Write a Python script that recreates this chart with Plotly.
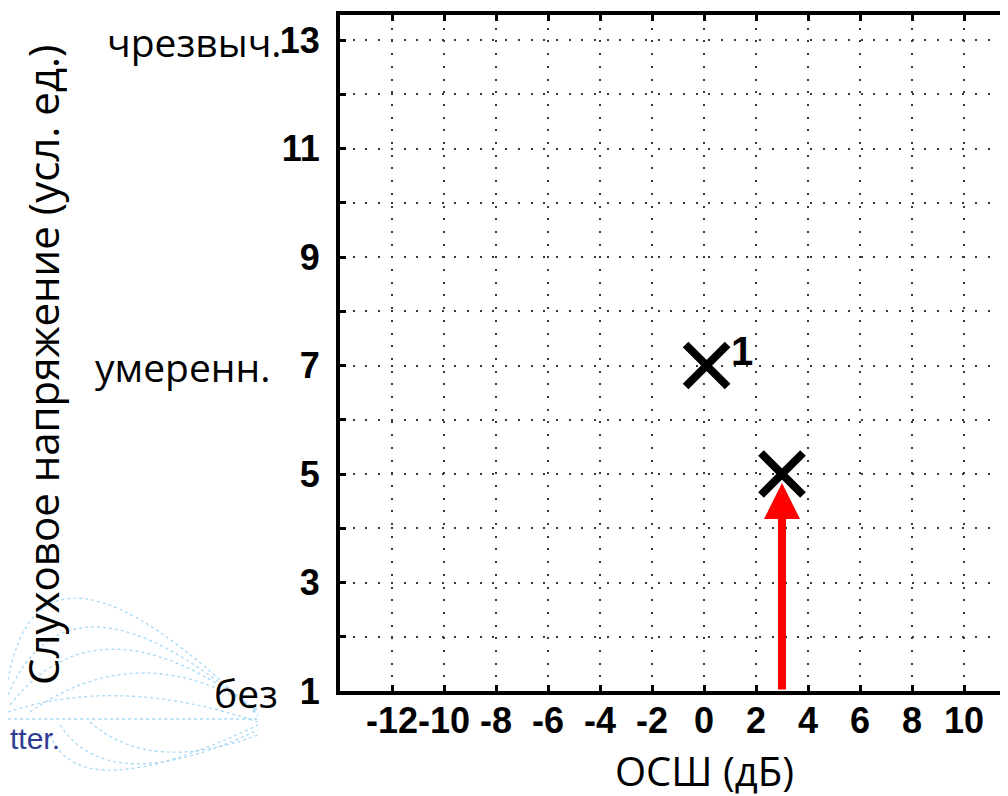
import plotly.graph_objects as go

# --- data -------------------------------------------------------------
snr_db = [0.1, 3.0]            # ОСШ (дБ) of the two points
strain = [7.0, 5.0]            # слуховое напряжение (усл. ед.)
point_labels = ["1", ""]

arrow_from = 1.0               # red arrow starts at the bottom axis, ends at point 2

x_ticks = list(range(-12, 13, 2))
y_ticks = list(range(1, 14))
y_ticktext = [str(v) if v % 2 else "" for v in y_ticks]

level_values = [13, 7, 1]
level_names = ["чрезвыч.", "умеренн.", "без"]

X_TITLE = "ОСШ (дБ)"
Y_TITLE = "Слуховое напряжение (усл. ед.)"

# --- style ------------------------------------------------------------
W, H = 1008, 796
OFF = 8                          # page body margin shifts the figure by 8px
L, R, T, B = 332, 0, 7, 113
PX_PER_DB = 26.0
PX_PER_UNIT = 54.25
X0, Y0 = -14, 1
x_range = [X0, X0 + (W - L - R) / PX_PER_DB]
y_range = [Y0, Y0 + (H - T - B) / PX_PER_UNIT]

NUM_FONT = dict(family="Liberation Sans, Arial", size=36, color="black", weight="bold")
WORD_FONT = dict(family="Open Sans, Noto Sans", size=39, color="black")
GRID = dict(showgrid=True, gridcolor="#3a3a3a", gridwidth=2, griddash="2px,10.7px")
level_shift = [-56, -68, -60]

plot_w = W - L - R
plot_h = H - T - B


def px2paper(sx, sy):
    """screen pixel -> paper coords"""
    return (sx - OFF - L) / plot_w, (H - B - (sy - OFF)) / plot_h


fig = go.Figure()

# red arrow pointing at the second point
fig.add_annotation(
    x=snr_db[1], y=strain[1], ax=snr_db[1], ay=arrow_from,
    xref="x", yref="y", axref="x", ayref="y",
    showarrow=True, arrowhead=2, arrowsize=0.9, arrowwidth=8,
    arrowcolor="#ff0000", standoff=9, text="",
)

fig.add_trace(go.Scatter(
    x=snr_db, y=strain, mode="markers",
    marker=dict(symbol="x-thin-open", size=42, color="black",
                line=dict(color="black", width=8)),
    showlegend=False, hoverinfo="skip",
))

for xv, yv, lbl in zip(snr_db, strain, point_labels):
    if lbl:
        fig.add_annotation(
            x=xv, y=yv, xref="x", yref="y", text=f"<b>{lbl}</b>", showarrow=False,
            xanchor="left", yanchor="middle", xshift=22, yshift=15,
            font=dict(family="Liberation Sans, Arial", size=40, color="black"),
        )

# level words next to the y tick numbers
for yv, name, sh in zip(level_values, level_names, level_shift):
    fig.add_annotation(
        x=0, y=yv, xref="paper", yref="y", text=name, showarrow=False,
        xanchor="right", yanchor="middle", xshift=sh, yshift=-1, font=WORD_FONT,
    )

# axis titles
tx, ty = px2paper(42, 365)
fig.add_annotation(
    x=tx, y=ty, xref="paper", yref="paper",
    text=Y_TITLE, textangle=-90, showarrow=False,
    xanchor="center", yanchor="middle", font=dict(WORD_FONT, size=42),
)
tx, ty = px2paper(704, 770)
fig.add_annotation(
    x=tx, y=ty, xref="paper", yref="paper",
    text=X_TITLE, showarrow=False, xanchor="center", yanchor="middle",
    borderpad=0, font=dict(WORD_FONT, size=40),
)

# faint logo watermark in the bottom-left corner
wm = dict(type="path", xref="paper", yref="paper",
          line=dict(color="#a9d9f5", width=1.3, dash="dot"))
wm_paths = [
    [(8, 719), (140, 719), (258, 719)],
    [(8, 680), (40, 500), (258, 716)],
    [(8, 695), (70, 550), (258, 714)],
    [(10, 705), (100, 590), (258, 712)],
    [(30, 712), (140, 635), (258, 710)],
    [(8, 712), (120, 675), (258, 722)],
    [(50, 735), (80, 810), (258, 725)],
    [(60, 725), (110, 800), (258, 730)],
    [(90, 722), (150, 775), (258, 735)],
]
for pts in wm_paths:
    (ax_, ay_), (cx, cy), (bx, by) = [px2paper(*p) for p in pts]
    fig.add_shape(path=f"M {ax_},{ay_} Q {cx},{cy} {bx},{by}", **wm)
tx, ty = px2paper(8, 738)
fig.add_annotation(
    x=tx, y=ty, xref="paper", yref="paper",
    text="tter.", showarrow=False, xanchor="left", yanchor="middle",
    font=dict(family="Liberation Sans, Arial", size=30, color="#2f3d93"),
)

fig.update_layout(
    width=W, height=H,
    margin=dict(l=L, r=R, t=T, b=B),
    paper_bgcolor="white", plot_bgcolor="white",
    showlegend=False,
)
fig.update_xaxes(
    range=x_range, tickvals=x_ticks, ticktext=[str(v) for v in x_ticks],
    tickangle=0, tickfont=NUM_FONT,
    ticks="inside", ticklen=6, tickwidth=3, tickcolor="black",
    showline=True, linecolor="black", linewidth=4, mirror="allticks",
    zeroline=False, ticklabelstandoff=-5, **GRID,
)
fig.update_yaxes(
    range=y_range, tickvals=y_ticks, ticktext=y_ticktext,
    tickfont=NUM_FONT, ticks="inside", ticklen=6, tickwidth=3, tickcolor="black",
    showline=True, linecolor="black", linewidth=4,
    zeroline=False, ticklabelstandoff=9, **GRID,
)

fig.write_html("out.html")
